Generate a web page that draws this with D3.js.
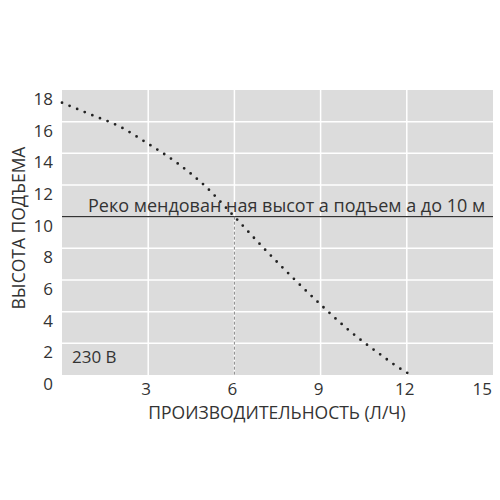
<!DOCTYPE html>
<html>
<head>
<meta charset="utf-8">
<script src="https://cdn.jsdelivr.net/npm/d3@7"></script>
<style>
  body { margin: 0; background: #fff; }
  svg { display: block; font-family: "Open Sans", sans-serif; }
</style>
</head>
<body>
<div id="chart"></div>
<script>
// flow (л/ч) vs head (м)
const flow = [0, 1, 2, 3, 4, 5, 6, 7, 8, 9, 10, 11, 12, 12.1];
const head = [17.2, 16.45, 15.7, 14.6, 13.4, 11.9, 10.0, 8.05, 6.2, 4.45, 2.8, 1.4, 0.15, 0.05];
const xTicks = [3, 6, 9, 12, 15];
const yTicks = [0, 2, 4, 6, 8, 10, 12, 14, 16, 18];
const recHead = 10;
const recFlow = 6;
const recLabel = "Реко мендован ная высот а подъем а до 10 м";
const voltage = "230 В";

const width = 500, height = 500;
const margin = { top: 90, right: 7, bottom: 125, left: 62 };

const svg = d3.select('#chart').append('svg')
  .attr('width', width)
  .attr('height', height);

const x = d3.scaleLinear().domain([0, 15]).range([margin.left, width - margin.right]);
const y = d3.scaleLinear().domain([0, 18]).range([height - margin.bottom, margin.top]);

// panel
svg.append('rect')
  .attr('x', x(0)).attr('y', y(18))
  .attr('width', x(15) - x(0)).attr('height', y(0) - y(18))
  .attr('fill', '#dcdcdc');

// white grid
svg.selectAll('.vgrid')
  .data(xTicks.filter(d => d < 15))
  .enter().append('line')
  .attr('x1', d => x(d)).attr('x2', d => x(d))
  .attr('y1', y(18)).attr('y2', y(0))
  .attr('stroke', '#fff').attr('stroke-width', 1.5);

svg.selectAll('.hgrid')
  .data(yTicks.filter(d => d > 0 && d < 18))
  .enter().append('line')
  .attr('x1', x(0)).attr('x2', x(15))
  .attr('y1', d => y(d)).attr('y2', d => y(d))
  .attr('stroke', '#fff').attr('stroke-width', 1.5);

// tick labels
svg.selectAll('.ylab')
  .data(yTicks)
  .enter().append('text')
  .attr('x', 53)
  .attr('y', d => y(d) + 15)
  .attr('text-anchor', 'end')
  .style('font-size', '17px')
  .attr('fill', '#333')
  .text(d => d);

svg.selectAll('.xlab')
  .data(xTicks)
  .enter().append('text')
  .attr('x', d => d === 15 ? x(d) - 1 : x(d) - 2)
  .attr('y', y(0) + 20)
  .attr('text-anchor', d => d === 15 ? 'end' : 'middle')
  .style('font-size', '17px')
  .attr('fill', '#333')
  .text(d => d);

// axis titles
svg.append('text')
  .attr('x', 277).attr('y', 419)
  .attr('text-anchor', 'middle')
  .style('font-size', '17.5px')
  .attr('fill', '#333')
  .text('ПРОИЗВОДИТЕЛЬНОСТЬ (Л/Ч)');

svg.append('text')
  .attr('transform', 'translate(25,228) rotate(-90)')
  .attr('text-anchor', 'middle')
  .style('font-size', '17.5px')
  .attr('fill', '#333')
  .text('ВЫСОТА ПОДЪЕМА');

// recommended head line
svg.append('line')
  .attr('x1', x(0)).attr('x2', x(15))
  .attr('y1', y(recHead)).attr('y2', y(recHead))
  .attr('stroke', '#333').attr('stroke-width', 1.3);

svg.append('text')
  .attr('x', 88).attr('y', y(recHead) - 5)
  .style('font-size', '18px')
  .attr('fill', '#333')
  .text(recLabel);

// drop line at the operating point
svg.append('line')
  .attr('x1', x(recFlow)).attr('x2', x(recFlow))
  .attr('y1', y(recHead)).attr('y2', y(0))
  .attr('stroke', '#888').attr('stroke-width', 1)
  .attr('stroke-dasharray', '3,2');

// pump curve
const pts = flow.map((f, i) => [f, head[i]]);
const line = d3.line()
  .x(d => x(d[0]))
  .y(d => y(d[1]))
  .curve(d3.curveMonotoneX);

svg.append('path')
  .datum(pts)
  .attr('d', line)
  .attr('fill', 'none')
  .attr('stroke', '#222')
  .attr('stroke-width', 2.8)
  .attr('stroke-linecap', 'round')
  .attr('stroke-dasharray', '0,8.2');

svg.append('text')
  .attr('x', 72).attr('y', 363)
  .style('font-size', '17px')
  .attr('fill', '#333')
  .text(voltage);
</script>
</body>
</html>
